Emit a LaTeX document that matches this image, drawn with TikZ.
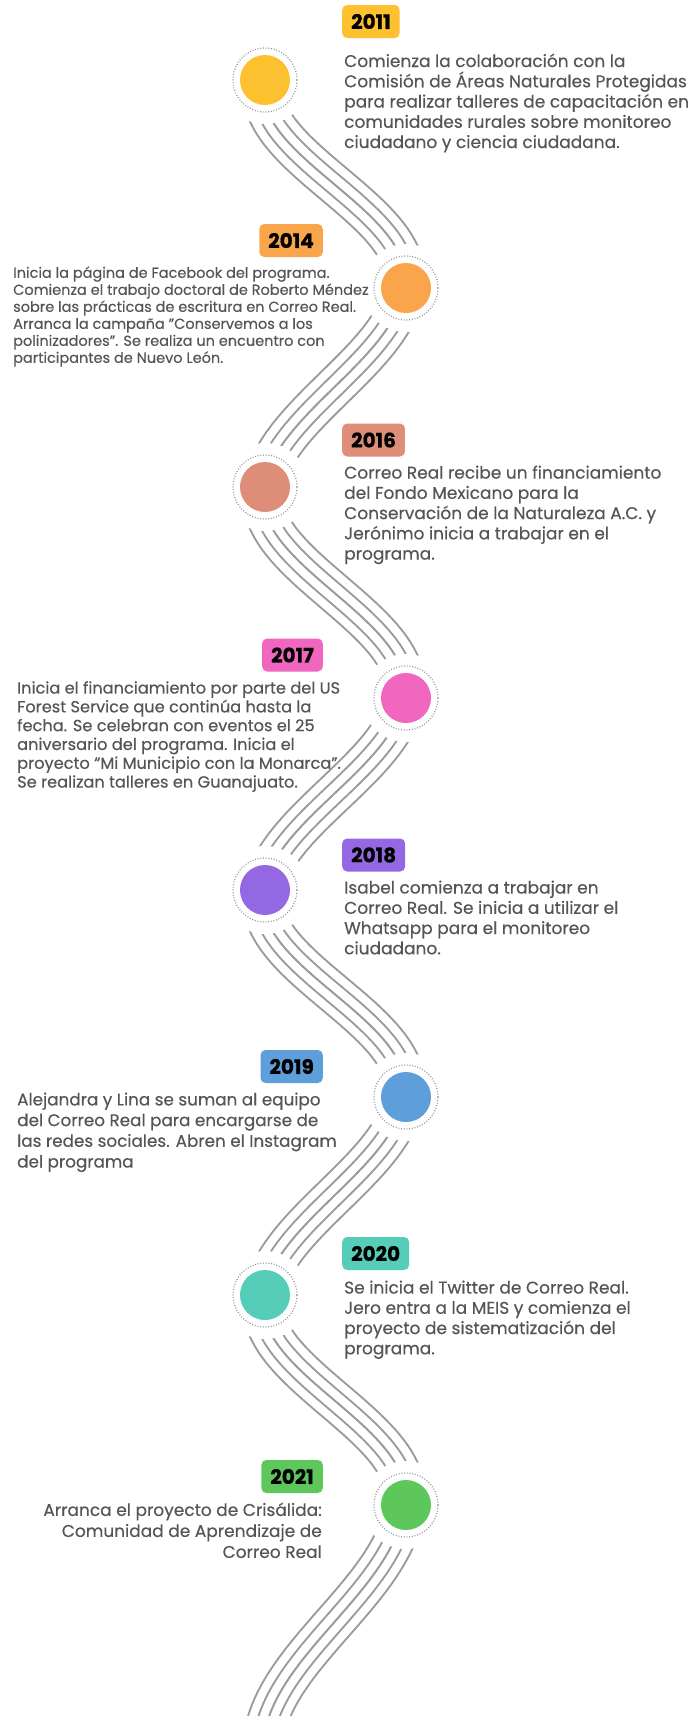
\documentclass[tikz,border=0pt]{standalone}
\usepackage{fontspec}
\setmainfont{Poppins}[FakeBold=0.35, BoldFeatures={FakeBold=0.8}]
\definecolor{yel}{HTML}{FDC12F}
\definecolor{org}{HTML}{F9A54B}
\definecolor{sal}{HTML}{DE8D79}
\definecolor{pnk}{HTML}{F166BF}
\definecolor{pur}{HTML}{9468E2}
\definecolor{blu}{HTML}{5E9EDB}
\definecolor{tea}{HTML}{56CDB9}
\definecolor{grn}{HTML}{5EC75C}
\definecolor{linegray}{HTML}{969CA1}
\definecolor{ringgray}{HTML}{8A9097}
\definecolor{txtgray}{HTML}{555555}
\tikzset{
  ribbon/.style={draw=linegray, line width=42pt,
    postaction={draw=white, line width=38pt},
    postaction={draw=linegray, line width=22pt},
    postaction={draw=white, line width=18pt},
    postaction={draw=linegray, line width=2pt}},
  dot/.style={circle, inner sep=0pt, minimum size=50pt},
  ring/.style={draw=ringgray, line width=1.2pt, dash pattern=on 0.9pt off 1.8pt},
  yearbox/.style={rounded corners=5pt, inner xsep=9pt, inner ysep=0pt, minimum height=33pt,
    text=black, font=\fontsize{20}{20}\selectfont\bfseries},
  info/.style={inner sep=0pt, text=txtgray, align=left, font=\fontsize{17}{20.25}\selectfont}
}
\begin{document}
\begin{tikzpicture}[x=1pt, y=-1pt]
  \useasboundingbox (0,0) rectangle (690,1716);
  \clip (0,0) rectangle (690,1716);
  \fill[white] (0,0) rectangle (690,1716);
  % the wave behind the dots
  \coordinate (w0) at (263,90); \coordinate (w1) at (405,278); \coordinate (w2) at (263,497);
  \coordinate (w3) at (405,688); \coordinate (w4) at (263,900); \coordinate (w5) at (405,1087);
  \coordinate (w6) at (263,1305); \coordinate (w7) at (405,1495); \coordinate (w8) at (263,1750);
  \draw[ribbon] (w0) .. controls +(0,68.5) and +(0,-68.5) .. (w1)
    .. controls +(0,79.8) and +(0,-79.8) .. (w2) .. controls +(0,69.6) and +(0,-69.6) .. (w3)
    .. controls +(0,77.2) and +(0,-77.2) .. (w4) .. controls +(0,68.1) and +(0,-68.1) .. (w5)
    .. controls +(0,79.4) and +(0,-79.4) .. (w6) .. controls +(0,69.2) and +(0,-69.2) .. (w7)
    .. controls +(0,92.9) and +(0,-92.9) .. (w8);
  % dots
  \fill[white] (265,80) circle (44pt); \draw[ring] (265,80) circle (32pt); \node[dot, fill=yel] (d11) at (265,80) {};
  \fill[white] (406,288) circle (44pt); \draw[ring] (406,288) circle (32pt); \node[dot, fill=org] (d14) at (406,288) {};
  \fill[white] (265,487) circle (44pt); \draw[ring] (265,487) circle (32pt); \node[dot, fill=sal] (d16) at (265,487) {};
  \fill[white] (406,698) circle (44pt); \draw[ring] (406,698) circle (32pt); \node[dot, fill=pnk] (d17) at (406,698) {};
  \fill[white] (265,890) circle (44pt); \draw[ring] (265,890) circle (32pt); \node[dot, fill=pur] (d18) at (265,890) {};
  \fill[white] (406,1097) circle (44pt); \draw[ring] (406,1097) circle (32pt); \node[dot, fill=blu] (d19) at (406,1097) {};
  \fill[white] (265,1295) circle (44pt); \draw[ring] (265,1295) circle (32pt); \node[dot, fill=tea] (d20) at (265,1295) {};
  \fill[white] (406,1505) circle (44pt); \draw[ring] (406,1505) circle (32pt); \node[dot, fill=grn] (d21) at (406,1505) {};
  % years
  \node[yearbox, fill=yel, anchor=west] (b11) at (342,21.5) {2011};
  \node[yearbox, fill=org, anchor=east] (b14) at (323,240.5) {2014};
  \node[yearbox, fill=sal, anchor=west] (b16) at (342,440) {2016};
  \node[yearbox, fill=pnk, anchor=east] (b17) at (323,655) {2017};
  \node[yearbox, fill=pur, anchor=west] (b18) at (342,855) {2018};
  \node[yearbox, fill=blu, anchor=east] (b19) at (323,1066.5) {2019};
  \node[yearbox, fill=tea, anchor=west] (b20) at (342,1253.5) {2020};
  \node[yearbox, fill=grn, anchor=east] (b21) at (323,1476.5) {2021};
  % texts
  \node[info, anchor=north west] (t11) at (344,53.4) {Comienza la colaboración con la\\
    Comisión de Áreas Naturales Protegidas\\para realizar talleres de capacitación en\\
    comunidades rurales sobre monitoreo\\ciudadano y ciencia ciudadana.};
  \node[info, anchor=north west, font=\fontsize{14.5}{17}\selectfont] (t14) at (13,266.3) {Inicia la página de Facebook del programa.\\
    Comienza el trabajo doctoral de Roberto Méndez\\sobre las prácticas de escritura en Correo Real.\\
    Arranca la campaña \symbol{34}Conservemos a los\\polinizadores\symbol{34}. Se realiza un encuentro con\\
    participantes de Nuevo León.};
  \node[info, anchor=north west] (t16) at (344,465.4) {Correo Real recibe un financiamiento\\
    del Fondo Mexicano para la\\Conservación de la Naturaleza A.C. y\\
    Jerónimo inicia a trabajar en el\\programa.};
  \node[info, anchor=north west, font=\fontsize{16.2}{18.8}\selectfont] (t17) at (17,681) {Inicia el financiamiento por parte del US\\
    Forest Service que continúa hasta la\\fecha. Se celebran con eventos el 25\\
    aniversario del programa. Inicia el\\proyecto “Mi Municipio con la Monarca”.\\
    Se realizan talleres en Guanajuato.};
  \node[info, anchor=north west] (t18) at (344,880.4) {Isabel comienza a trabajar en\\
    Correo Real. Se inicia a utilizar el\\Whatsapp para el monitoreo\\ciudadano.};
  \node[info, anchor=north west, font=\fontsize{16.8}{20.7}\selectfont] (t19) at (17,1092.4) {Alejandra y Lina se suman al equipo\\
    del Correo Real para encargarse de\\las redes sociales. Abren el Instagram\\del programa};
  \node[info, anchor=north west] (t20) at (344,1280.4) {Se inicia el Twitter de Correo Real.\\
    Jero entra a la MEIS y comienza el\\proyecto de sistematización del\\programa.};
  \node[info, anchor=north east, align=right, font=\fontsize{17}{21}\selectfont] (t21) at (322,1502.4) {Arranca el proyecto de Crisálida:\\
    Comunidad de Aprendizaje de\\Correo Real};
\end{tikzpicture}
\end{document}
